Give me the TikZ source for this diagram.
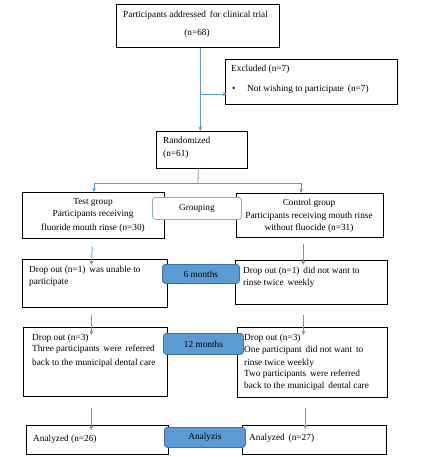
\documentclass[tikz,border=0pt]{standalone}
\usepackage{fontspec}
\setmainfont{Liberation Serif}
\usetikzlibrary{arrows.meta}
\definecolor{arrblue}{HTML}{5B9BD5}
\definecolor{fillblue}{HTML}{5B9BD5}
\definecolor{edgeblue}{HTML}{41719C}
\definecolor{grpedge}{HTML}{8FAADC}
\tikzset{
  box/.style={draw=black, line width=0.7pt, inner sep=0pt, anchor=north west},
  pill/.style={rounded corners=3pt, line width=0.8pt, inner sep=0pt, anchor=north west},
  bluepill/.style={pill, draw=edgeblue, fill=fillblue},
  whitepill/.style={pill, draw=grpedge, fill=white},
  txt/.style={inner sep=0pt, anchor=base west, font=\fontsize{9.3}{11}\selectfont},
  ctxt/.style={inner sep=0pt, anchor=base, font=\fontsize{9.3}{11}\selectfont},
  arr/.style={draw=arrblue, line width=0.8pt, -{Stealth[length=4.5pt,width=4pt]}},
  ln/.style={draw=arrblue, line width=0.8pt},
}
\begin{document}
\begin{tikzpicture}[x=1pt,y=-1pt]
\useasboundingbox (0,0) rectangle (421,457);
% boxes
\node[box, minimum width=163pt, minimum height=43pt] (top) at (116,4) {};
\node[box, minimum width=172pt, minimum height=45pt] (excl) at (225,59) {};
\node[box, minimum width=91pt, minimum height=37pt] (rand) at (156,131) {};
\node[box, minimum width=142pt, minimum height=46pt] (test) at (22,192) {};
\node[box, minimum width=147pt, minimum height=44pt] (ctrl) at (236,193) {};
\node[box, minimum width=145pt, minimum height=48pt] (dl6) at (22,259) {};
\node[box, minimum width=152pt, minimum height=44pt] (dr6) at (235,260) {};
\node[box, minimum width=144pt, minimum height=69pt] (dl12) at (23,327) {};
\node[box, minimum width=150pt, minimum height=70pt] (dr12) at (237,327) {};
\node[box, minimum width=142pt, minimum height=29pt] (anl) at (26,425) {};
\node[box, minimum width=144pt, minimum height=29pt] (anr) at (242,425) {};
% middle pills
\node[whitepill, minimum width=89pt, minimum height=22pt] (grp) at (152,197) {};
\node[bluepill, minimum width=77pt, minimum height=19pt] (m6) at (162,264) {};
\node[bluepill, minimum width=80pt, minimum height=21pt] (m12) at (163,333) {};
\node[bluepill, minimum width=81pt, minimum height=20pt] (anz) at (164,427) {};
% texts
\node[txt] (t1) at (123,18) {Participants addressed\, for clinical trial};
\node[ctxt] (t2) at (197,36) {(n=68)};
\node[txt] (t3) at (231,72) {Excluded (n=7)};
\node[txt] (t4) at (232,92) {\textbullet};
\node[txt] (t5) at (247,92) {Not wishing to participate\, (n=7)};
\node[txt] (t6) at (163,143) {Randomized};
\node[txt] (t7) at (163,157) {(n=61)};
\node[ctxt] (t8) at (93,204) {Test group};
\node[ctxt] (t9) at (93,216) {Participants receiving};
\node[ctxt] (t10) at (93,230) {fluoride mouth rinse (n=30)};
\node[ctxt] (t11) at (309,205) {Control group};
\node[ctxt] (t12) at (309,218) {Participants receiving mouth rinse};
\node[ctxt] (t13) at (309,230) {without fluocide (n=31)};
\node[ctxt] at (grp.center) [anchor=center] {Grouping};
\node[txt] (t14) at (29,272) {Drop out (n=1)\, was unable to};
\node[txt] (t15) at (29,284) {participate};
\node[ctxt] at (m6.center) [anchor=center] {6 months};
\node[txt] (t16) at (243,273) {Drop out (n=1)\, did not want to};
\node[txt] (t17) at (243,285) {rinse twice\, weekly};
\node[txt] (t18) at (32,340) {Drop out (n=3)};
\node[txt] (t19) at (32,351) {Three participants\, were\, referred};
\node[txt] (t20) at (32,365) {back to the municipal dental care};
\node[ctxt] at (m12.center) [anchor=center] {12 months};
\node[txt] (t21) at (244,340) {Drop out (n=3)};
\node[txt] (t22) at (244,352) {One participant\, did not want\, to};
\node[txt] (t23) at (244,365) {rinse twice weekly};
\node[txt] (t24) at (244,376) {Two participants\, were referred};
\node[txt] (t25) at (244,388) {back to the municipal\, dental care};
\node[txt] (t26) at (33,441) {Analyzed (n=26)};
\node[ctxt] at (anz.center) [anchor=center] {Analyzis};
\node[txt] (t27) at (249,440) {Analyzed\, (n=27)};
% connectors
\coordinate (br) at (200,94);
\draw[arr] ([xshift=2.5pt]top.south) -- ([xshift=-1.5pt]rand.north);
\draw[arr] (br) -- ([xshift=2pt]br -| excl.west);
\coordinate (sp) at (198,183);
\coordinate (spl) at (94,183);
\coordinate (spr) at (301,183);
\draw[ln] ([xshift=-3.5pt]rand.south) -- (sp);
\draw[ln] (spl) -- (spr);
\draw[arr] (spl) -- (spl |- test.north);
\draw[arr] (spr) -- (spr |- ctrl.north);
\draw[arr] ([xshift=-1pt,yshift=-8pt]test.south) -- ([xshift=-3.5pt,yshift=-6pt]dl6.north);
\draw[arr] ([xshift=-6.5pt,yshift=-6pt]ctrl.south) -- ([xshift=-8pt,yshift=-5pt]dr6.north);
\draw[arr] ([xshift=-3.5pt,yshift=-7pt]dl6.south) -- ([xshift=-4pt,yshift=-8pt]dl12.north);
\draw[arr] ([xshift=-8pt,yshift=-10pt]dr6.south) -- ([xshift=-9pt,yshift=-8pt]dr12.north);
\draw[arr] ([xshift=-4pt,yshift=-11pt]dl12.south) -- ([xshift=-6pt,yshift=-5pt]anl.north);
\draw[arr] ([xshift=-7pt,yshift=-10pt]dr12.south) -- ([xshift=-9pt,yshift=-4pt]anr.north);
\end{tikzpicture}
\end{document}
